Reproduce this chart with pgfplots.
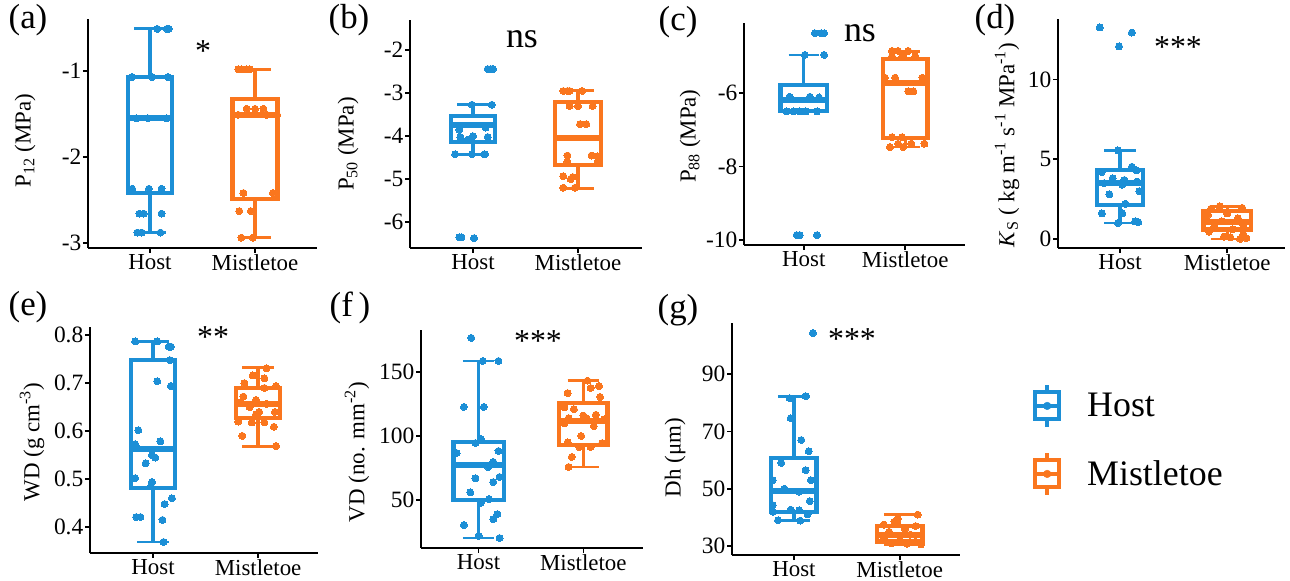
\documentclass[border=0pt]{standalone}
\usepackage{fontspec}
\setmainfont{Liberation Serif}
\usepackage{pgfplots}
\pgfplotsset{compat=1.18}
\definecolor{hostc}{RGB}{28,143,214}
\definecolor{mistc}{RGB}{250,118,30}
\pgfplotsset{
  panel/.style={
    scale only axis, clip=false,
    axis x line=bottom, axis y line=left,
    axis line style={-, line width=2.6bp},
    every outer x axis line/.append style={-},
    every outer y axis line/.append style={-},
    every inner x axis line/.append style={-},
    every inner y axis line/.append style={-},
    tick align=outside, major tick length=5bp,
    every tick/.style={black, line width=1.6bp},
    xtick={1,2}, xticklabels={Host,Mistletoe},
    minor tick num=0,
    xticklabel style={font=\fontsize{23}{25}\selectfont, inner sep=1bp},
    yticklabel style={font=\fontsize{23.5}{25}\selectfont, inner sep=1.5bp},
    ylabel style={font=\fontsize{23}{25}\selectfont, anchor=center},
    /pgf/number format/assume math mode=true,
  },
  pts/.style={only marks, mark=*, mark size=3.5bp, forget plot, mark options={solid, line width=0pt}},
  boxlegend/.style={legend image code/.code={
    \draw[line width=4bp, fill=white] (2bp,-13.5bp) rectangle (26bp,13.5bp);
    \draw[line width=4bp] (14bp,13.5bp)--(14bp,21bp) (14bp,-13.5bp)--(14bp,-21bp) (2bp,0bp)--(26bp,0bp);
    \fill (14bp,0bp) circle (3.8bp);
  }},
}
% #1 colour, #2 position, #3 median, #4 upper quartile, #5 lower quartile,
% #6 upper whisker, #7 lower whisker, #8 box width
\newcommand{\bx}[8]{%
 \pgfmathsetmacro\bxl{#2-#8/2}%
 \pgfmathsetmacro\bxr{#2+#8/2}%
 \pgfmathsetmacro\cxl{#2-0.15}%
 \pgfmathsetmacro\cxr{#2+0.15}%
 \edef\bxcmd{%
  \noexpand\addplot[forget plot, draw=#1, line width=3.3bp] coordinates {(#2,#4)(#2,#6)};
  \noexpand\addplot[forget plot, draw=#1, line width=3.3bp] coordinates {(#2,#5)(#2,#7)};
  \noexpand\addplot[forget plot, draw=#1, line width=2.8bp] coordinates {(\cxl,#6)(\cxr,#6)};
  \noexpand\addplot[forget plot, draw=#1, line width=2.8bp] coordinates {(\cxl,#7)(\cxr,#7)};
  \noexpand\addplot[forget plot, draw=#1, fill=white, line width=4.3bp, line join=miter] coordinates {(\bxl,#5)(\bxr,#5)(\bxr,#4)(\bxl,#4)} -- cycle;
  \noexpand\addplot[forget plot, draw=#1, line width=6bp] coordinates {(\bxl,#3)(\bxr,#3)};
 }\bxcmd}
\begin{document}
\begin{tikzpicture}
\useasboundingbox (0,0) rectangle (1290bp,581bp);

% (a)
\begin{axis}[panel, at={(88bp,333bp)}, anchor=south west, width=229bp, height=229bp,
  xmin=0.41, xmax=2.59, ymin=-3.06, ymax=-0.395,
  ytick={-3,-2,-1}, yticklabels={-3,-2,-1},
  ylabel={P\textsubscript{12} (MPa)},
  ylabel style={at={(axis description cs:-0.275,0.47)}}]
\bx{hostc}{1}{-1.55}{-1.07}{-2.42}{-0.51}{-2.88}{0.42}
\bx{mistc}{2}{-1.51}{-1.33}{-2.49}{-0.98}{-2.94}{0.43}
\addplot[pts, color=hostc] coordinates {
(1.07,-0.51)(1.16,-0.51)(1.18,-0.51)
(0.83,-1.07)(1.02,-1.07)(1.17,-1.07)
(0.87,-1.55)(0.98,-1.55)(1.16,-1.55)
(0.83,-2.37)(0.99,-2.37)(1.11,-2.37)
(0.90,-2.66)(0.94,-2.66)(1.11,-2.66)
(0.88,-2.88)(0.92,-2.88)(1.10,-2.88)};
\addplot[pts, color=mistc] coordinates {
(1.84,-0.98)(1.87,-0.98)(1.92,-0.98)(1.95,-0.98)
(1.92,-1.44)(2.00,-1.44)(2.08,-1.44)
(1.84,-1.51)(2.11,-1.51)(2.21,-1.51)
(1.89,-2.42)(2.17,-2.42)
(1.85,-2.63)(1.96,-2.63)
(1.87,-2.94)(1.98,-2.94)};
\end{axis}

% (b)
\begin{axis}[panel, at={(410bp,333bp)}, anchor=south west, width=232bp, height=228bp,
  xmin=0.40, xmax=2.61, ymin=-6.60, ymax=-1.30,
  ytick={-6,-5,-4,-3,-2}, yticklabels={-6,-5,-4,-3,-2},
  ylabel={P\textsubscript{50} (MPa)},
  ylabel style={at={(axis description cs:-0.267,0.456)}}]
\bx{hostc}{1}{-3.75}{-3.53}{-4.14}{-3.27}{-4.42}{0.42}
\bx{mistc}{2}{-4.05}{-3.21}{-4.67}{-2.93}{-5.21}{0.44}
\addplot[pts, color=hostc] coordinates {
(1.14,-2.44)(1.17,-2.44)(1.19,-2.44)
(0.99,-3.27)(1.18,-3.27)
(0.87,-3.85)(1.12,-3.80)
(0.88,-4.02)(1.00,-4.00)(1.14,-4.02)(0.95,-4.08)
(0.83,-4.42)(0.99,-4.42)(1.11,-4.42)
(0.87,-6.35)(0.89,-6.35)(1.01,-6.37)};
\addplot[pts, color=mistc] coordinates {
(1.86,-2.95)(1.90,-2.95)(1.92,-2.95)(2.04,-2.95)
(1.92,-3.30)(2.00,-3.30)(2.14,-3.30)
(2.02,-3.72)(2.08,-3.72)
(1.90,-4.45)(2.13,-4.45)(2.19,-4.47)
(1.90,-4.60)(2.19,-4.58)
(1.86,-4.93)(1.95,-4.95)(1.93,-5.00)
(1.86,-5.20)(1.97,-5.20)};
\end{axis}

% (c)
\begin{axis}[panel, at={(744bp,336bp)}, anchor=south west, width=221bp, height=222bp,
  xmin=0.41, xmax=2.59, ymin=-10.14, ymax=-4.09,
  ytick={-10,-8,-6}, yticklabels={-10,-8,-6},
  ylabel={P\textsubscript{88} (MPa)},
  ylabel style={at={(axis description cs:-0.244,0.49)}}]
\bx{hostc}{1}{-6.2}{-5.78}{-6.49}{-4.96}{-6.5}{0.46}
\bx{mistc}{2}{-5.73}{-5.07}{-7.23}{-4.86}{-7.47}{0.44}
\addplot[pts, color=hostc] coordinates {
(1.11,-4.37)(1.17,-4.37)(1.20,-4.37)
(1.01,-4.96)(1.20,-4.96)
(0.86,-6.10)(1.06,-6.10)(1.15,-6.12)
(0.83,-6.50)(0.90,-6.50)(0.96,-6.50)(1.02,-6.50)(1.13,-6.50)
(0.93,-9.87)(0.96,-9.87)(1.13,-9.87)};
\addplot[pts, color=mistc] coordinates {
(1.87,-4.85)(1.93,-4.85)(2.03,-4.85)
(1.87,-5.00)(1.97,-5.00)(2.10,-5.00)
(1.80,-5.58)(1.90,-5.58)(2.17,-5.58)
(2.03,-5.95)(2.08,-5.95)
(1.87,-7.20)(1.97,-7.20)
(1.93,-7.38)(2.06,-7.38)(2.19,-7.38)
(1.85,-7.47)(1.98,-7.47)};
\end{axis}

% (d)
\begin{axis}[panel, at={(1058bp,333bp)}, anchor=south west, width=227bp, height=229bp,
  xmin=0.42, xmax=2.54, ymin=-0.57, ymax=13.8,
  ytick={0,5,10}, yticklabels={0,5,10},
  ylabel={\textit{K}\textsubscript{S} ( kg m\textsuperscript{-1} s\textsuperscript{-1} MPa\textsuperscript{-1})},
  ylabel style={at={(axis description cs:-0.225,0.45)}}]
\bx{hostc}{1}{3.53}{4.34}{2.14}{5.55}{1.0}{0.43}
\bx{mistc}{2}{1.05}{1.75}{0.6}{2.05}{0.0}{0.44}
\addplot[pts, color=hostc] coordinates {
(0.81,13.27)(0.99,12.08)(1.11,12.95)
(0.98,5.55)(1.11,4.53)(0.83,4.2)(1.15,4.3)(0.93,3.8)(1.04,3.7)(1.16,3.6)(0.85,3.5)(1.02,3.4)
(1.18,3.0)(0.90,2.8)(1.05,2.2)(0.83,1.6)(1.02,1.6)(1.14,1.1)(1.17,1.05)(0.98,1.0)};
\addplot[pts, color=mistc] coordinates {
(1.93,2.05)(2.14,1.95)(1.85,1.9)(2.00,1.6)(1.82,1.5)(2.10,1.3)(1.95,1.1)(2.15,0.9)
(1.88,0.8)(2.05,0.6)(1.83,0.45)(2.15,0.3)(1.97,0.15)(2.03,0.1)(2.18,0.05)(2.12,0.0)};
\end{axis}

% (e)
\begin{axis}[panel, at={(90bp,28bp)}, anchor=south west, width=228bp, height=226bp,
  xmin=0.40, xmax=2.57, ymin=0.346, ymax=0.817,
  ytick={0.4,0.5,0.6,0.7,0.8}, yticklabels={0.4,0.5,0.6,0.7,0.8},
  ylabel={WD (g cm\textsuperscript{-3})},
  ylabel style={at={(axis description cs:-0.254,0.49)}}]
\bx{hostc}{1}{0.563}{0.748}{0.481}{0.787}{0.369}{0.42}
\bx{mistc}{2}{0.656}{0.69}{0.627}{0.732}{0.568}{0.42}
\addplot[pts, color=hostc] coordinates {
(0.83,0.787)(1.04,0.787)(1.15,0.776)(1.17,0.776)(1.16,0.748)(1.04,0.704)(1.17,0.694)
(0.86,0.602)(1.07,0.579)(0.83,0.573)(0.85,0.565)(0.99,0.55)(1.02,0.545)(0.93,0.533)
(0.83,0.502)(0.99,0.494)(0.98,0.485)(1.18,0.46)(1.11,0.448)(0.84,0.421)(0.88,0.421)
(1.09,0.415)(1.10,0.369)};
\addplot[pts, color=mistc] coordinates {
(2.08,0.731)(1.95,0.716)(2.06,0.71)(1.87,0.70)(2.17,0.694)(2.06,0.69)(1.86,0.672)
(1.98,0.665)(1.84,0.66)(2.08,0.657)(1.92,0.65)(2.01,0.64)(2.16,0.64)(1.98,0.635)
(1.81,0.62)(1.94,0.618)(2.06,0.618)(2.15,0.609)(1.85,0.59)(2.17,0.569)};
\end{axis}

% (f)
\begin{axis}[panel, at={(421bp,33bp)}, anchor=south west, width=222bp, height=218bp,
  xmin=0.45, xmax=2.57, ymin=12.5, ymax=182.8,
  ytick={50,100,150}, yticklabels={50,100,150},
  ylabel={VD (no. mm\textsuperscript{-2})},
  ylabel style={at={(axis description cs:-0.288,0.44)}}]
\bx{hostc}{1}{77.0}{95.5}{50.0}{158.6}{20.3}{0.48}
\bx{mistc}{2}{112.0}{125.6}{93.0}{143.2}{75.8}{0.46}
\addplot[pts, color=hostc] coordinates {
(0.93,176.6)(1.04,158.6)(1.19,158.6)(0.86,122.7)(1.05,122.7)(1.02,97.7)(0.97,94.5)
(0.79,86.7)(1.19,88.3)(1.14,79.7)(1.09,75.8)(1.20,68)(0.97,67)(1.14,64)(0.92,56)
(1.10,50.8)(1.02,47.7)(1.18,39)(1.14,35)(0.86,30.5)(1.00,22)(1.20,20.3)};
\addplot[pts, color=mistc] coordinates {
(2.04,143.2)(2.15,139)(2.07,137.5)(1.85,133.5)(2.16,130.5)(1.82,122.5)(1.91,121)
(2.12,116.6)(2.00,116)(1.86,114)(2.03,114)(2.20,113)(1.82,110)(2.10,107.7)(1.98,100)
(1.85,95)(2.18,94.5)(1.96,91.4)(2.07,91.4)(1.89,83.6)(1.86,75.8)};
\end{axis}

% (g)
\begin{axis}[panel, at={(732bp,26bp)}, anchor=south west, width=228bp, height=232bp,
  xmin=0.415, xmax=2.57, ymin=26.9, ymax=107.8,
  ytick={30,50,70,90}, yticklabels={30,50,70,90},
  ylabel={Dh (μm)},
  ylabel style={at={(axis description cs:-0.25,0.42)}},
  legend style={at={(axis description cs:1.307,0.496)}, anchor=west, draw=none, fill=none,
    font=\fontsize{36}{40}\selectfont, row sep=22bp, column sep=24bp},
  legend cell align=left]
\bx{hostc}{1}{49.3}{60.8}{42.0}{82.3}{38.9}{0.43}
\bx{mistc}{2}{34.0}{37.1}{31.6}{41.0}{30.6}{0.43}
\addplot[pts, color=hostc] coordinates {
(1.18,104.3)(0.96,81.6)(1.11,82.3)(0.97,74.6)(1.07,67)(1.14,63.1)(0.88,59)(1.11,56.5)
(0.80,53)(1.16,53)(0.91,50)(1.05,49)(1.15,45.7)(0.80,44.3)(0.97,42.7)(1.05,42.5)
(0.80,42)(1.13,41.1)(0.85,39)(1.06,38.9)};
\addplot[pts, color=mistc] coordinates {
(2.17,41)(1.98,39.5)(1.95,38.5)(1.85,37.5)(2.15,37)(2.05,36)(1.90,35)(2.10,34)
(1.85,33)(2.00,32)(2.15,31.5)(1.92,31)(2.07,30.8)(2.20,30.6)};
\addlegendimage{boxlegend, color=hostc}
\addlegendentry{Host}
\addlegendimage{boxlegend, color=mistc}
\addlegendentry{Mistletoe}
\end{axis}

% panel letters
\begin{scope}[every node/.style={anchor=base, font=\fontsize{35}{37}\selectfont, inner sep=0pt}]
\node at (28bp,552bp) {(a)};
\node at (349bp,552bp) {(b)};
\node at (678bp,550.5bp) {(c)};
\node at (995bp,552bp) {(d)};
\node at (28bp,265.5bp) {(e)};
\node at (350bp,264bp) {(f\,)};
\node at (678bp,262.5bp) {(g)};
\end{scope}
% significance
\begin{scope}[every node/.style={anchor=base, inner sep=0pt}]
\node[font=\fontsize{32}{34}\selectfont] at (203bp,519bp) {*};
\node[font=\fontsize{36}{38}\selectfont] at (522bp,533bp) {ns};
\node[font=\fontsize{36}{38}\selectfont] at (860bp,539bp) {ns};
\node[font=\fontsize{32}{34}\selectfont] at (1178bp,523bp) {***};
\node[font=\fontsize{32}{34}\selectfont] at (213bp,233bp) {**};
\node[font=\fontsize{32}{34}\selectfont] at (538bp,229bp) {***};
\node[font=\fontsize{32}{34}\selectfont] at (852bp,231bp) {***};
\end{scope}
\end{tikzpicture}
\end{document}
